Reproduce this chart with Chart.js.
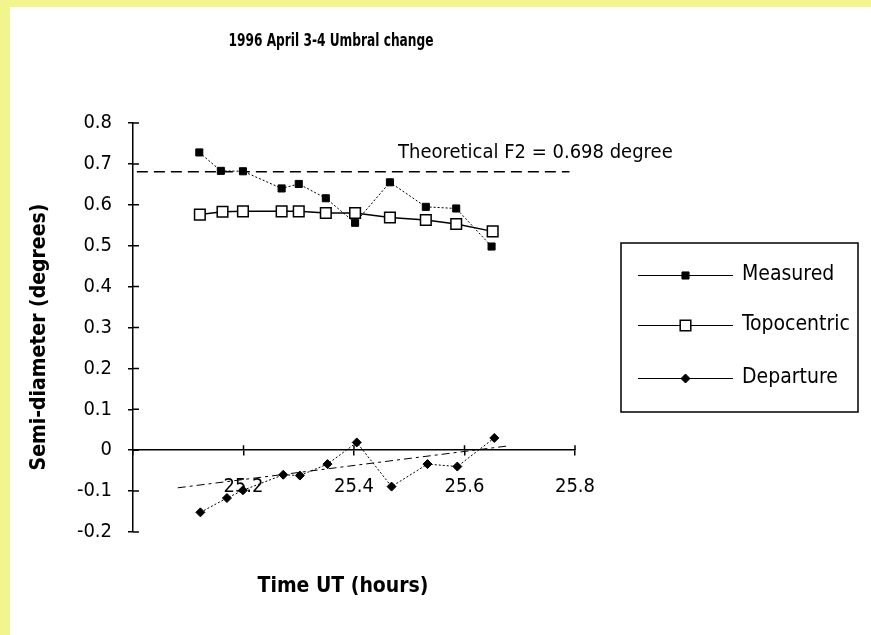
<!DOCTYPE html>
<html><head><meta charset="utf-8">
<script src="https://cdn.jsdelivr.net/npm/chart.js@4.4.1/dist/chart.umd.min.js"></script>
<style>
html,body{margin:0;padding:0;background:#F2F58C;width:871px;height:635px;overflow:hidden}
#wrap{position:absolute;left:10px;top:7px;width:861px;height:628px;background:#fff}
canvas{display:block}
</style></head><body>
<div id="wrap"><canvas id="c" width="861" height="628"></canvas></div>
<script>
// ---- data ----
const chartTitle = "1996 April 3-4 Umbral change";
const xTitle = "Time UT (hours)";
const yTitle = "Semi-diameter (degrees)";
const seriesNames = ["Measured", "Topocentric", "Departure"];
const measuredTime = [25.120, 25.159, 25.199, 25.269, 25.300, 25.349, 25.402, 25.465, 25.530, 25.585, 25.649];
const measuredValue = [0.728, 0.683, 0.682, 0.640, 0.651, 0.616, 0.556, 0.655, 0.595, 0.591, 0.498];
const topoTime = [25.121, 25.162, 25.199, 25.269, 25.300, 25.349, 25.402, 25.465, 25.530, 25.585, 25.651];
const topoValue = [0.576, 0.583, 0.584, 0.584, 0.584, 0.580, 0.580, 0.569, 0.563, 0.553, 0.535];
const departureTime = [25.122, 25.170, 25.199, 25.272, 25.302, 25.352, 25.405, 25.468, 25.533, 25.587, 25.654];
const departureValue = [-0.152, -0.117, -0.098, -0.060, -0.062, -0.034, 0.019, -0.089, -0.034, -0.040, 0.030];
const theoryTime = [25.007, 25.790];
const theoryValue = [0.681, 0.681];
const theoryLabel = "Theoretical F2 = 0.698 degree";
const trendTime = [25.081, 25.682];
const trendValue = [-0.092, 0.011];
const xMin = 25.0, xMax = 25.8, xStep = 0.2;
const yMin = -0.2, yMax = 0.8, yStep = 0.1;

const FONT = "'DejaVu Sans Condensed', 'Liberation Sans Narrow', 'DejaVu Sans', sans-serif";
const pts = (xs, ys) => xs.map((x, i) => ({x: x, y: ys[i]}));

const styles = [
  {pointStyle: 'rect', radius: 5, fill: '#000', borderWidth: 1},
  {pointStyle: 'rect', radius: 7.5, fill: '#fff', borderWidth: 1.5},
  {pointStyle: 'rectRot', radius: 4.5, fill: '#000', borderWidth: 1}
];

function fitText(ctx, text, cx, cy, width) {
  const w = ctx.measureText(text).width;
  const sx = Math.min(1, width / w);
  ctx.save();
  ctx.translate(cx, cy);
  ctx.scale(sx, 1);
  ctx.fillText(text, 0, 0);
  ctx.restore();
}

const decor = {
  id: 'decor',
  afterDraw(chart) {
    const ctx = chart.ctx;
    const xs = chart.scales.x, ys = chart.scales.y;
    const y0 = ys.getPixelForValue(0);
    const left = chart.chartArea.left;
    ctx.save();
    ctx.strokeStyle = '#000';
    ctx.lineWidth = 1.5;
    ctx.beginPath();
    xs.ticks.forEach(t => {
      if (Math.abs(t.value - xMin) < 1e-9) return;
      const px = xs.getPixelForValue(t.value);
      ctx.moveTo(px, y0 - 5); ctx.lineTo(px, y0);
    });
    ys.ticks.forEach(t => {
      const py = ys.getPixelForValue(t.value);
      ctx.moveTo(left, py); ctx.lineTo(left + 6, py);
    });
    ctx.stroke();

    ctx.fillStyle = '#000';
    // title
    ctx.font = "bold 18px " + FONT;
    ctx.textAlign = 'center';
    ctx.textBaseline = 'middle';
    fitText(ctx, chartTitle, 321, 34, 205);
    // x title
    ctx.font = "bold 21px " + FONT;
    ctx.fillText(xTitle, 333, 580);
    // y title
    ctx.save();
    ctx.translate(30, 330);
    ctx.rotate(-Math.PI / 2);
    ctx.fillText(yTitle, 0, 0);
    ctx.restore();
    // theoretical label
    ctx.font = "20px " + FONT;
    ctx.textAlign = 'left';
    ctx.textBaseline = 'alphabetic';
    ctx.fillText(theoryLabel, 388, 151);

    // legend
    ctx.lineWidth = 1.5;
    ctx.strokeRect(611, 236, 237, 169);
    const rows = [268, 318, 371];
    ctx.font = "21px " + FONT;
    ctx.textBaseline = 'middle';
    rows.forEach((ry, i) => {
      ctx.lineWidth = 1;
      ctx.strokeStyle = '#000';
      ctx.beginPath(); ctx.moveTo(628, ry + 0.5); ctx.lineTo(723, ry + 0.5); ctx.stroke();
      const s = styles[i];
      ctx.fillStyle = s.fill;
      ctx.lineWidth = s.borderWidth;
      Chart.helpers.drawPoint(ctx, {pointStyle: s.pointStyle, radius: s.radius, rotation: 0, borderWidth: s.borderWidth}, 675.5, ry + 0.5);
      ctx.fillStyle = '#000';
      ctx.fillText(seriesNames[i], 732, ry);
    });
    ctx.restore();
  }
};

new Chart(document.getElementById('c'), {
  type: 'scatter',
  data: {
    datasets: [
      {label: seriesNames[0], data: pts(measuredTime, measuredValue), showLine: true,
       borderColor: '#000', backgroundColor: '#000', borderWidth: 1, borderDash: [2, 2],
       pointStyle: 'rect', pointRadius: 5, pointBorderWidth: 1, pointBackgroundColor: '#000', pointBorderColor: '#000'},
      {label: seriesNames[1], data: pts(topoTime, topoValue), showLine: true,
       borderColor: '#000', backgroundColor: '#fff', borderWidth: 1.5,
       pointStyle: 'rect', pointRadius: 7.5, pointBorderWidth: 1.5, pointBackgroundColor: '#fff', pointBorderColor: '#000'},
      {label: seriesNames[2], data: pts(departureTime, departureValue), showLine: true,
       borderColor: '#000', backgroundColor: '#000', borderWidth: 1, borderDash: [2, 2],
       pointStyle: 'rectRot', pointRadius: 4.5, pointBorderWidth: 1, pointBackgroundColor: '#000', pointBorderColor: '#000'},
      {label: 'theory', data: pts(theoryTime, theoryValue), showLine: true,
       borderColor: '#000', borderWidth: 1.5, borderDash: [11, 6], pointRadius: 0},
      {label: 'trend', data: pts(trendTime, trendValue), showLine: true,
       borderColor: '#000', borderWidth: 1, borderDash: [8, 4, 3, 4], pointRadius: 0}
    ]
  },
  options: {
    responsive: false,
    animation: false,
    layout: {padding: {left: 0, top: 116, right: 296, bottom: 103}},
    plugins: {legend: {display: false}, tooltip: {enabled: false}, title: {display: false}},
    scales: {
      x: {
        type: 'linear', min: xMin, max: xMax, position: {y: 0},
        ticks: {stepSize: xStep, padding: 20, color: '#000', maxRotation: 0, autoSkip: false,
                font: {family: FONT, size: 20},
                callback: v => Math.abs(v - xMin) < 1e-9 ? '' : v.toFixed(1)},
        grid: {drawOnChartArea: false, tickLength: 5, color: '#000', lineWidth: 1.5},
        border: {color: '#000', width: 1.5}
      },
      y: {
        type: 'linear', min: yMin, max: yMax,
        ticks: {stepSize: yStep, padding: 16, color: '#000', autoSkip: false,
                font: {family: FONT, size: 20},
                callback: v => Math.abs(v) < 1e-9 ? '0' : v.toFixed(1)},
        grid: {drawOnChartArea: false, tickLength: 5, color: '#000', lineWidth: 1.5},
        border: {color: '#000', width: 1.5},
        afterFit: s => { s.width = 123; }
      }
    }
  },
  plugins: [decor]
});
</script>
</body></html>
